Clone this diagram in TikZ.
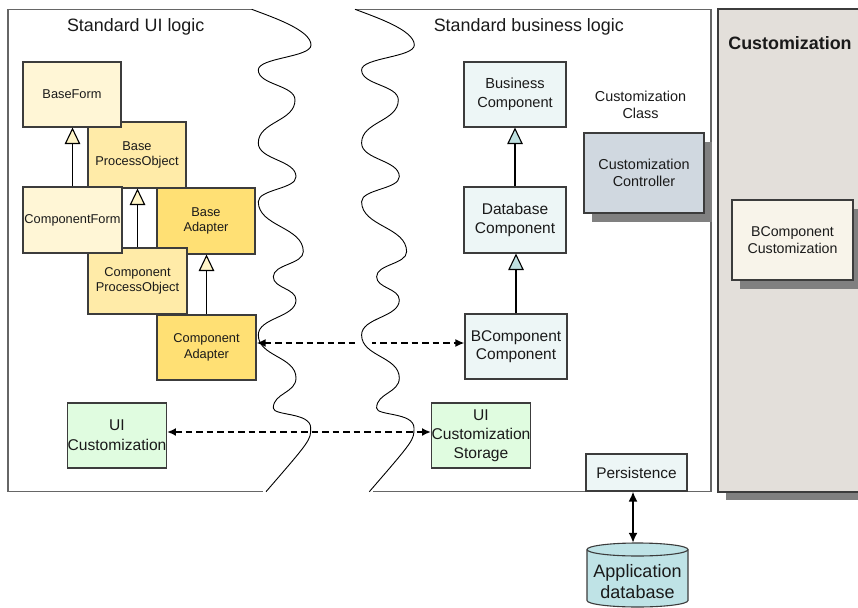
\documentclass[tikz,border=0pt]{standalone}
\usepackage{fontspec}
\setmainfont{Liberation Sans}
\usetikzlibrary{arrows.meta,shadows}
\definecolor{yA}{HTML}{FFF6D6}
\definecolor{yB}{HTML}{FFEBA8}
\definecolor{yC}{HTML}{FFE074}
\definecolor{grn}{HTML}{E0FCE0}
\definecolor{cy}{HTML}{EDF6F6}
\definecolor{ctl}{HTML}{D0D8E0}
\definecolor{cream}{HTML}{F8F4EA}
\definecolor{panelfill}{HTML}{E3DFDA}
\definecolor{shd}{HTML}{808080}
\definecolor{dbfill}{HTML}{BFE3E6}
\definecolor{boxline}{HTML}{3C3C3C}
\definecolor{frameline}{HTML}{666666}
\definecolor{txt}{HTML}{1A1A1A}
\definecolor{triY}{HTML}{FFF5C8}
\definecolor{triC}{HTML}{BFE0E0}
\begin{document}
\begin{tikzpicture}[x=1pt,y=-1pt,
  box/.style={draw=boxline, line width=1.1pt, inner sep=0pt, align=center, text=txt},
  yfont/.style={font=\fontsize{12.8}{15.5}\selectfont},
  mfont/.style={font=\fontsize{15.5}{18.5}\selectfont},
  sfont/.style={font=\fontsize{14.4}{16.8}\selectfont},
  hfont/.style={font=\fontsize{17.9}{20}\selectfont, text=txt},
  frame/.style={draw=frameline, line width=1.3pt},
  wave/.style={draw=black, line width=0.9pt},
  inheritY/.style={draw=black, line width=1.3pt, -{Triangle[length=16.5pt,width=15.5pt,fill=triY,line width=1.1pt]}},
  inheritC/.style={draw=black, line width=1.3pt, -{Triangle[length=16.5pt,width=15.5pt,fill=triC,line width=1.1pt]}},
  dashconn/.style={draw=black, line width=1.9pt, dash pattern=on 6.5pt off 4pt,
     {Latex[length=9pt,width=8pt]}-{Latex[length=9pt,width=8pt]}},
  solidconn/.style={draw=black, line width=1.8pt,
     {Latex[length=10pt,width=9pt]}-{Latex[length=10pt,width=9pt]}},
  shadowed/.style={drop shadow={shadow xshift=8pt, shadow yshift=-8.5pt, fill=shd, opacity=1}},
  wavy/.pic={\draw[wave] (251.7,9.3) .. controls (272,17) and (311,30) .. (311,45)
     .. controls (311,57.5) and (258.3,57.5) .. (258.3,70)
     .. controls (258.3,85) and (295,85) .. (295,100)
     .. controls (295,121.5) and (258.3,121.5) .. (258.3,143)
     .. controls (258.3,159.9) and (296,159.9) .. (296,176.7)
     .. controls (296,189.2) and (258.3,189.2) .. (258.3,201.7)
     .. controls (258.3,226.7) and (303.3,226.7) .. (303.3,251.7)
     .. controls (303.3,264.2) and (273.3,264.2) .. (273.3,276.7)
     .. controls (273.3,288.3) and (296,288.3) .. (296,300)
     .. controls (296,317.5) and (258.3,317.5) .. (258.3,335)
     .. controls (258.3,356.5) and (296,356.5) .. (296,378)
     .. controls (296,393) and (273.3,393) .. (273.3,408)
     .. controls (273.3,416) and (310.7,412) .. (310.7,428)
     .. controls (310.7,440) .. (266,491.7);}
]
\useasboundingbox (0,0) rectangle (858,607);
\clip (0,0) rectangle (858,607);

% Customization panel
\fill[shd] (726,17) rectangle (880,500);
\path[fill=panelfill, draw=boxline, line width=1.5pt] (718,9) rectangle (872,492);
\node[hfont, font=\bfseries\fontsize{17.9}{20}\selectfont] (hcust) at (790,43) {Customization};

% frames
\draw[frame] (251.7,9.3) -- (8,9.3) -- (8,491.7) -- (263,491.7);
\draw[frame] (355,9.3) -- (711,9.3) -- (711,491.7) -- (373.3,491.7);

% headers
\node[hfont] (hui) at (135.7,27) {Standard UI logic};
\node[hfont] (hbl) at (528.8,27) {Standard business logic};

% UI boxes
\node[box, yfont, fill=yB, minimum width=98pt, minimum height=66pt] (bpo) at (137,155) {Base\\ProcessObject};
\node[box, yfont, fill=yA, minimum width=98pt, minimum height=65pt] (bf) at (72,94.5) {BaseForm};
\node[box, yfont, fill=yC, minimum width=98pt, minimum height=66pt] (ba) at (206,221) {Base\\Adapter};
\node[box, yfont, fill=yB, minimum width=99pt, minimum height=66pt] (cpo) at (137.5,281) {Component\\ProcessObject};
\node[box, yfont, fill=yA, minimum width=99pt, minimum height=66pt] (cf) at (72.5,220) {ComponentForm};
\node[box, yfont, fill=yC, minimum width=99pt, minimum height=65pt] (ca) at (206.5,347.5) {Component\\Adapter};
\node[box, font=\fontsize{15.6}{20}\selectfont, fill=grn, minimum width=98pt, minimum height=65pt] (uic) at (117,435.5) {UI\\Customization};

% business boxes
\node[box, font=\fontsize{14.6}{19}\selectfont, fill=cy, minimum width=102pt, minimum height=65pt] (bc) at (515,94.5) {Business\\Component};
\node[box, mfont, fill=cy, minimum width=102pt, minimum height=66pt] (dbc) at (515,220) {Database\\Component};
\node[box, mfont, fill=cy, minimum width=102pt, minimum height=65pt] (bcc) at (516,346.5) {BComponent\\Component};
\node[box, font=\fontsize{15.6}{19}\selectfont, fill=grn, minimum width=98pt, minimum height=65pt] (uics) at (481,435.5) {UI\\Customization\\Storage};
\node[box, font=\fontsize{15.4}{18}\selectfont, fill=cy, minimum width=101pt, minimum height=37pt] (pers) at (636.5,472.5) {Persistence};

\node[sfont, text=txt, align=center] (ccl) at (640.5,105) {Customization\\Class};
\node[box, sfont, fill=ctl, shadowed, minimum width=120pt, minimum height=80pt] (cc) at (644,173) {Customization\\Controller};
\node[box, font=\fontsize{14.2}{17}\selectfont, fill=cream, shadowed, minimum width=121pt, minimum height=80pt] (bcz) at (792.5,240) {BComponent\\Customization};

% database cylinder
\path[fill=dbfill, draw=boxline, line width=1.1pt] (587,549.5) -- (587,600.5)
   arc[start angle=180, end angle=360, x radius=50.5pt, y radius=6.5pt] -- (688,549.5)
   arc[start angle=0, end angle=180, x radius=50.5pt, y radius=6.5pt] -- cycle;
\draw[boxline, line width=1.1pt] (587,549.5) arc[start angle=180, end angle=360, x radius=50.5pt, y radius=6.5pt];
\node[font=\fontsize{18}{21}\selectfont, text=txt, align=center, inner sep=0pt, minimum width=101pt, minimum height=77pt] (db) at (637.5,581.5) {Application\\database};

% inheritance
\draw[inheritY] (cf.north) -- (cf.north |- bf.south);
\draw[inheritY] (cpo.north) -- (cpo.north |- bpo.south);
\draw[inheritY] (ca.north) -- (ca.north |- ba.south);
\draw[inheritC] (dbc.north) -- (bc.south);
\draw[inheritC] (bcc.north) -- (bcc.north |- dbc.south);

% associations
\draw[dashconn] ([yshift=4.5pt]ca.east) -- ([yshift=3.5pt]bcc.west);
\draw[white, line width=3pt] (356.5,343) -- (372,343);
\draw[dashconn] ([yshift=3.5pt]uic.east) -- ([yshift=3.5pt]uics.west);
\draw[solidconn] ([xshift=-3.5pt]pers.south) -- ([xshift=-4.5pt]db.north);

% wavy cut lines
\pic at (0,0) {wavy};
\pic at (103.3,0) {wavy};
\end{tikzpicture}
\end{document}
